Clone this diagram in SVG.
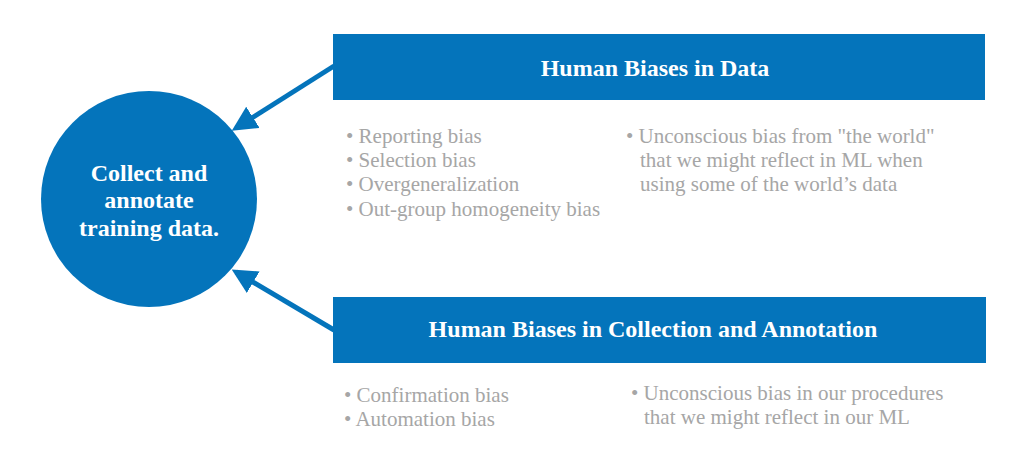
<svg xmlns="http://www.w3.org/2000/svg" width="1018" height="470" viewBox="0 0 1018 470">
<style>
.box{fill:#0474bb}
.title{font-family:"Liberation Serif","Times New Roman",serif;font-weight:bold;font-size:24px;fill:#fff;text-anchor:middle}
.ctext{font-family:"Liberation Serif","Times New Roman",serif;font-weight:bold;font-size:24px;fill:#fff;text-anchor:middle}
.item{font-family:"Liberation Serif","Times New Roman",serif;font-size:21px;fill:#a6a6a6}
.conn{stroke:#0474bb;stroke-width:5;fill:none}
</style>
<defs>
<marker id="ah" viewBox="0 0 10 10" refX="8" refY="5" markerWidth="5" markerHeight="5" orient="auto" markerUnits="strokeWidth">
<path d="M0,0 L10,5 L0,10 z" fill="#0474bb"/>
</marker>
</defs>
<rect width="1018" height="470" fill="#fff"/>
<g id="connectors">
<line class="conn" x1="334" y1="66" x2="236" y2="128" marker-end="url(#ah)"/>
<line class="conn" x1="334" y1="330" x2="236" y2="272" marker-end="url(#ah)"/>
</g>
<g id="node-collect">
<circle cx="149" cy="199" r="108" class="box"/>
<text class="ctext" x="149" y="181">Collect and</text>
<text class="ctext" x="149" y="208">annotate</text>
<text class="ctext" x="149" y="236">training data.</text>
</g>
<g id="node-data">
<rect x="333" y="34" width="652" height="66" class="box"/>
<text class="title" x="655" y="76">Human Biases in Data</text>
</g>
<g id="list-data">
<text class="item" x="346" y="143">• Reporting bias</text>
<text class="item" x="346" y="167">• Selection bias</text>
<text class="item" x="346" y="191">• Overgeneralization</text>
<text class="item" x="346" y="216">• Out-group homogeneity bias</text>
<text class="item" x="626" y="143">• Unconscious bias from "the world"</text>
<text class="item" x="640" y="167">that we might reflect in ML when</text>
<text class="item" x="640" y="191">using some of the world’s data</text>
</g>
<g id="node-collection">
<rect x="333" y="297" width="653" height="66" class="box"/>
<text class="title" x="653" y="337">Human Biases in Collection and Annotation</text>
</g>
<g id="list-collection">
<text class="item" x="344" y="402">• Confirmation bias</text>
<text class="item" x="344" y="426">• Automation bias</text>
<text class="item" x="631" y="400">• Unconscious bias in our procedures</text>
<text class="item" x="644" y="424">that we might reflect in our ML</text>
</g>
</svg>
